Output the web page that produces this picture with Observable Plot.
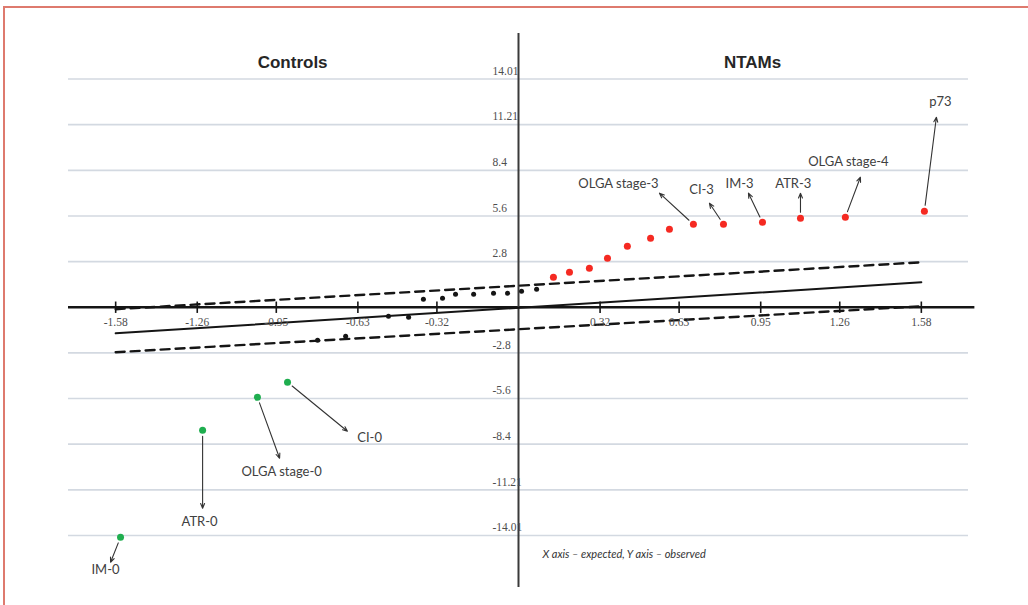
<!DOCTYPE html>
<html><head><meta charset="utf-8">
<script src="https://cdn.jsdelivr.net/npm/d3@7"></script>
<script src="https://cdn.jsdelivr.net/npm/@observablehq/plot@0.6"></script>
<style>
body{margin:0;background:#fff;}
#wrap{position:relative;width:1028px;height:605px;overflow:hidden;background:#fff;}
#frame{position:absolute;left:3px;top:6px;right:-10px;bottom:-10px;border-top:2px solid #de7a6e;border-left:2px solid #de7a6e;pointer-events:none;}
#chart svg{display:block;}
</style></head><body><div id="wrap"><div id="chart"></div><div id="frame"></div></div>
<script>
// Axis ticks
const xTicks = [-1.58, -1.26, -0.95, -0.63, -0.32, 0.32, 0.63, 0.95, 1.26, 1.58];
const yTicks = [14.01, 11.21, 8.4, 5.6, 2.8, -2.8, -5.6, -8.4, -11.21, -14.01];

// Reference lines (expected line and confidence bands), endpoints at x = ±1.58
const lineX = [-1.58, 1.58];
const expectedY = [-1.6, 1.53];
const upperBandY = [-0.12, 2.76];
const lowerBandY = [-2.76, 0.06];

// NTAMs (red points)
const ntamX = [0.137, 0.20, 0.278, 0.349, 0.427, 0.518, 0.592, 0.686, 0.804, 0.957, 1.106, 1.282, 1.592];
const ntamY = [1.84, 2.15, 2.39, 3.0, 3.74, 4.23, 4.79, 5.09, 5.09, 5.21, 5.46, 5.52, 5.89];

// Other (black) points
const otherX = [-0.788, -0.678, -0.51, -0.431, -0.373, -0.298, -0.247, -0.176, -0.098, -0.043, 0.012, 0.071];
const otherY = [-2.03, -1.78, -0.55, -0.61, 0.49, 0.55, 0.80, 0.80, 0.86, 0.86, 0.98, 1.10];

// Controls (green points)
const ctrlNames = ["CI-0", "OLGA stage-0", "ATR-0", "IM-0"];
const ctrlX = [-0.906, -1.024, -1.239, -1.561];
const ctrlY = [-4.60, -5.52, -7.55, -14.12];
const ctrlTipX = [-0.671, -0.937, -1.239, -1.60];
const ctrlTipY = [-7.61, -9.27, -12.34, -15.65];
const ctrlLabelX = [-0.584, -0.929, -1.251, -1.62];
const ctrlLabelY = [-8.04, -10.13, -13.2, -16.14];

// Labelled NTAMs
const ntamNames = ["OLGA stage-3", "CI-3", "IM-3", "ATR-3", "OLGA stage-4", "p73"];
const ntamIdx = [7, 8, 9, 10, 11, 12];
const ntamTipX = [0.553, 0.749, 0.902, 1.106, 1.341, 1.639];
const ntamTipY = [7.0, 6.38, 7.0, 7.0, 7.98, 11.66];
const ntamLabelX = [0.392, 0.718, 0.867, 1.078, 1.294, 1.655];
const ntamLabelY = [7.55, 7.18, 7.55, 7.55, 8.90, 12.58];

const groupTitles = ["Controls", "NTAMs"];
const groupTitleX = [-0.886, 0.918];
const caption = "X axis \u2013 expected, Y axis \u2013 observed";

const upper = lineX.map((x, i) => ({x, y: upperBandY[i]}));
const lower = lineX.map((x, i) => ({x, y: lowerBandY[i]}));
const expected = lineX.map((x, i) => ({x, y: expectedY[i]}));
const ntam = ntamX.map((x, i) => ({x, y: ntamY[i]}));
const other = otherX.map((x, i) => ({x, y: otherY[i]}));
const ctrl = ctrlNames.map((n, i) => ({name: n, x: ctrlX[i], y: ctrlY[i], tx: ctrlTipX[i], ty: ctrlTipY[i], lx: ctrlLabelX[i], ly: ctrlLabelY[i]}));
const ntamLab = ntamNames.map((n, i) => ({name: n, x: ntamX[ntamIdx[i]], y: ntamY[ntamIdx[i]], tx: ntamTipX[i], ty: ntamTipY[i], lx: ntamLabelX[i], ly: ntamLabelY[i]}));
const labels = [...ctrl, ...ntamLab];

const labelFont = "Lato, 'Open Sans', sans-serif";
const tickFont = "'Liberation Serif', 'DejaVu Serif', serif";

const chart = Plot.plot({
  width: 1028,
  height: 605,
  marginLeft: 68,
  marginRight: 60,
  marginTop: 33,
  marginBottom: 18,
  x: {domain: [-1.765, 1.765], axis: null},
  y: {domain: [-17.2, 16.8], axis: null},
  style: {background: "transparent", overflow: "visible"},
  marks: [
    Plot.ruleY(yTicks, {stroke: "#d3d9e1", strokeWidth: 1.6}),
    Plot.ruleY([0], {x1: -1.765, x2: 1.79, stroke: "#151515", strokeWidth: 2.6}),
    Plot.ruleX([0], {stroke: "#3a3a3a", strokeWidth: 2}),
    Plot.ruleX(xTicks, {y1: 0.32, y2: -0.38, stroke: "#151515", strokeWidth: 1.6}),
    Plot.line(expected, {x: "x", y: "y", stroke: "#151515", strokeWidth: 2}),
    Plot.line(upper, {x: "x", y: "y", stroke: "#151515", strokeWidth: 2.4, strokeDasharray: "9,6"}),
    Plot.line(lower, {x: "x", y: "y", stroke: "#151515", strokeWidth: 2.4, strokeDasharray: "9,6"}),
    Plot.text(xTicks, {x: d => d, y: 0, dy: 15, text: d => String(d), fill: "#4d4d4d", fontSize: 11.5, fontFamily: tickFont}),
    Plot.text(yTicks, {x: 0, y: d => d, dx: -26, dy: -8, text: d => String(d), textAnchor: "start", fill: "#4d4d4d", fontSize: 11.5, fontFamily: tickFont}),
    Plot.dot(other, {x: "x", y: "y", r: 2.5, fill: "#151515"}),
    Plot.dot(ntam, {x: "x", y: "y", r: 3.5, fill: "#f52a22"}),
    Plot.dot(ctrl, {x: "x", y: "y", r: 3.5, fill: "#1fae4f"}),
    Plot.arrow(labels, {x1: "x", y1: "y", x2: "tx", y2: "ty", insetStart: 6, stroke: "#333", strokeWidth: 1.1, headLength: 7, headAngle: 45}),
    Plot.text(labels, {x: "lx", y: "ly", text: "name", fill: "#404040", fontSize: 13, fontFamily: labelFont}),
    Plot.text(groupTitles, {x: (d, i) => groupTitleX[i], y: 15.04, text: d => d, fill: "#262626", fontSize: 17, fontWeight: "bold", fontFamily: "'Liberation Sans', Arial, sans-serif"}),
    Plot.text([caption], {x: 0, y: -15.16, dx: 24, text: d => d, textAnchor: "start", fill: "#333", fontSize: 11, fontStyle: "italic", fontFamily: labelFont})
  ]
});
document.getElementById("chart").appendChild(chart);
</script>
</body></html>
